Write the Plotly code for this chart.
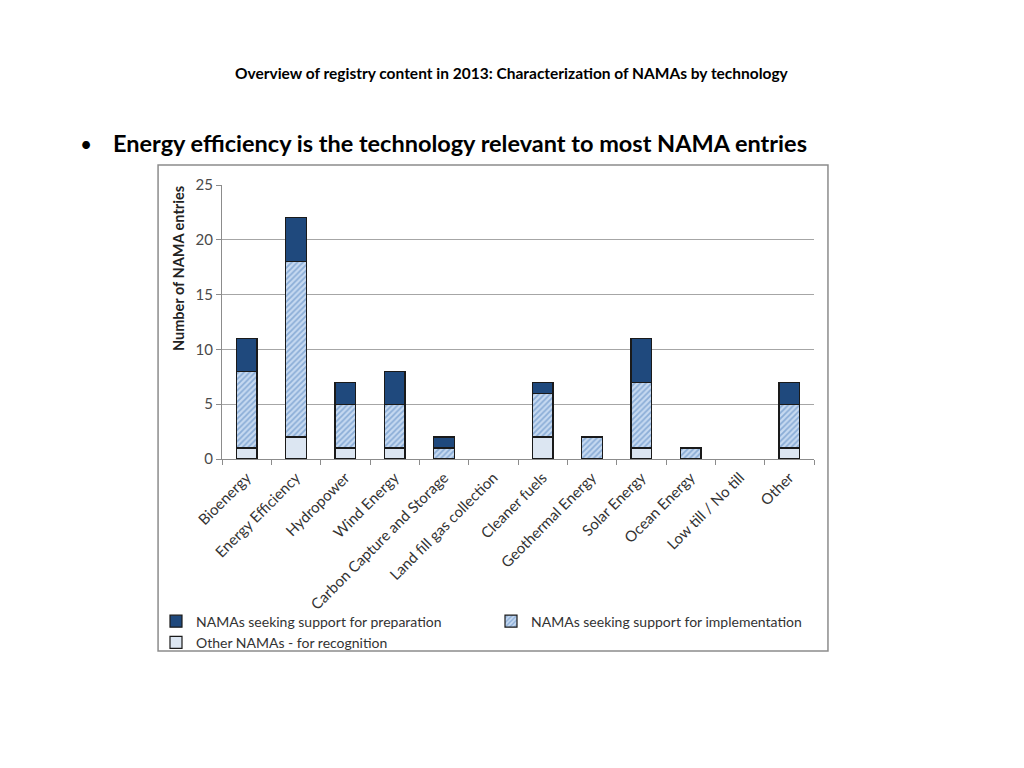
import plotly.graph_objects as go

categories = ["Bioenergy", "Energy Efficiency", "Hydropower", "Wind Energy",
              "Carbon Capture and Storage", "Land fill gas collection", "Cleaner fuels",
              "Geothermal Energy", "Solar Energy", "Ocean Energy", "Low till / No till", "Other"]
other_recognition = [1, 2, 1, 1, 0, 0, 2, 0, 1, 0, 0, 1]
support_implementation = [7, 16, 4, 4, 1, 0, 4, 2, 6, 1, 0, 4]
support_preparation = [3, 4, 2, 3, 1, 0, 1, 0, 4, 0, 0, 2]
y_ticks = [0, 5, 10, 15, 20, 25]


def nz(vals):
    return [v if v else None for v in vals]


FONT = "Lato"
fig = go.Figure()
line = dict(color="#1a1a1a", width=1.2)
fig.add_trace(go.Bar(x=categories, y=nz(other_recognition), name="Other NAMAs - for recognition",
                     marker=dict(color="#DCE6F2", line=line), legendrank=3))
fig.add_trace(go.Bar(x=categories, y=nz(support_implementation), name="NAMAs seeking support for implementation",
                     marker=dict(color="#C6D9F1", line=line,
                                 pattern=dict(shape="/", bgcolor="#C6D9F1", fgcolor="#4F81BD",
                                              size=4, solidity=0.45, fillmode="overlay")),
                     legendrank=2))
fig.add_trace(go.Bar(x=categories, y=nz(support_preparation), name="NAMAs seeking support for preparation",
                     marker=dict(color="#1F497D", line=line), legendrank=1))

fig.update_layout(
    barmode="stack", bargap=0.58,
    width=1024, height=768,
    paper_bgcolor="white", plot_bgcolor="white",
    margin=dict(l=214, r=218, t=177, b=317),
    font=dict(family=FONT, size=13, color="#333333"),
    showlegend=True,
    legend=dict(orientation="h", x=(156 - 222) / 592, y=-0.535, xanchor="left", yanchor="top",
                entrywidth=290, entrywidthmode="pixels", traceorder="normal",
                bgcolor="rgba(0,0,0,0)",
                font=dict(family=FONT, size=14, color="#333333"),
                itemwidth=30, tracegroupgap=0),
)
fig.update_xaxes(tickangle=-45, showline=True, linecolor="#8c8c8c", linewidth=1,
                 ticks="outside", tickson="boundaries", ticklen=5, tickcolor="#8c8c8c",
                 ticklabelstandoff=3,
                 tickfont=dict(family=FONT, size=15, color="#333333"), showgrid=False)
fig.update_yaxes(range=[0, 25], tickvals=y_ticks, showline=True, linecolor="#8c8c8c",
                 linewidth=1, ticks="outside", ticklen=5, tickcolor="#8c8c8c",
                 showgrid=True, gridcolor="#a6a6a6", gridwidth=1,
                 tickfont=dict(family=FONT, size=15, color="#4a4a4a"))

fig.add_annotation(text="<b>Number of NAMA entries</b>", textangle=-90,
                   xref="paper", yref="paper", x=(178 - 222) / 592, y=(459 - 269) / 274,
                   showarrow=False, xanchor="center", yanchor="middle",
                   font=dict(family=FONT, size=14.5, color="#222222"))

fig.add_shape(type="rect", xref="paper", yref="paper", x0=-0.108, x1=1.0236, y0=-0.7007, y1=1.073,
              line=dict(color="#8c8c8c", width=1.5), fillcolor="rgba(0,0,0,0)", layer="below")

fig.add_annotation(text="<b>Overview of registry content in 2013: Characterization of NAMAs by technology</b>",
                   xref="paper", yref="paper", x=(512 - 222) / 592, y=(459 - 73) / 274,
                   showarrow=False, xanchor="center", yanchor="middle",
                   font=dict(family=FONT, size=15.5, color="#000000"))
fig.add_annotation(text="•", xref="paper", yref="paper", x=(78 - 222) / 592, y=(459 - 143) / 274,
                   showarrow=False, xanchor="left", yanchor="middle",
                   font=dict(family=FONT, size=21, color="#000000"))
fig.add_annotation(text="<b>Energy efficiency is the technology relevant to most NAMA entries</b>",
                   xref="paper", yref="paper", x=(111 - 222) / 592, y=(459 - 143) / 274,
                   showarrow=False, xanchor="left", yanchor="middle",
                   font=dict(family=FONT, size=23.5, color="#000000"))

fig.write_html("out.html")
